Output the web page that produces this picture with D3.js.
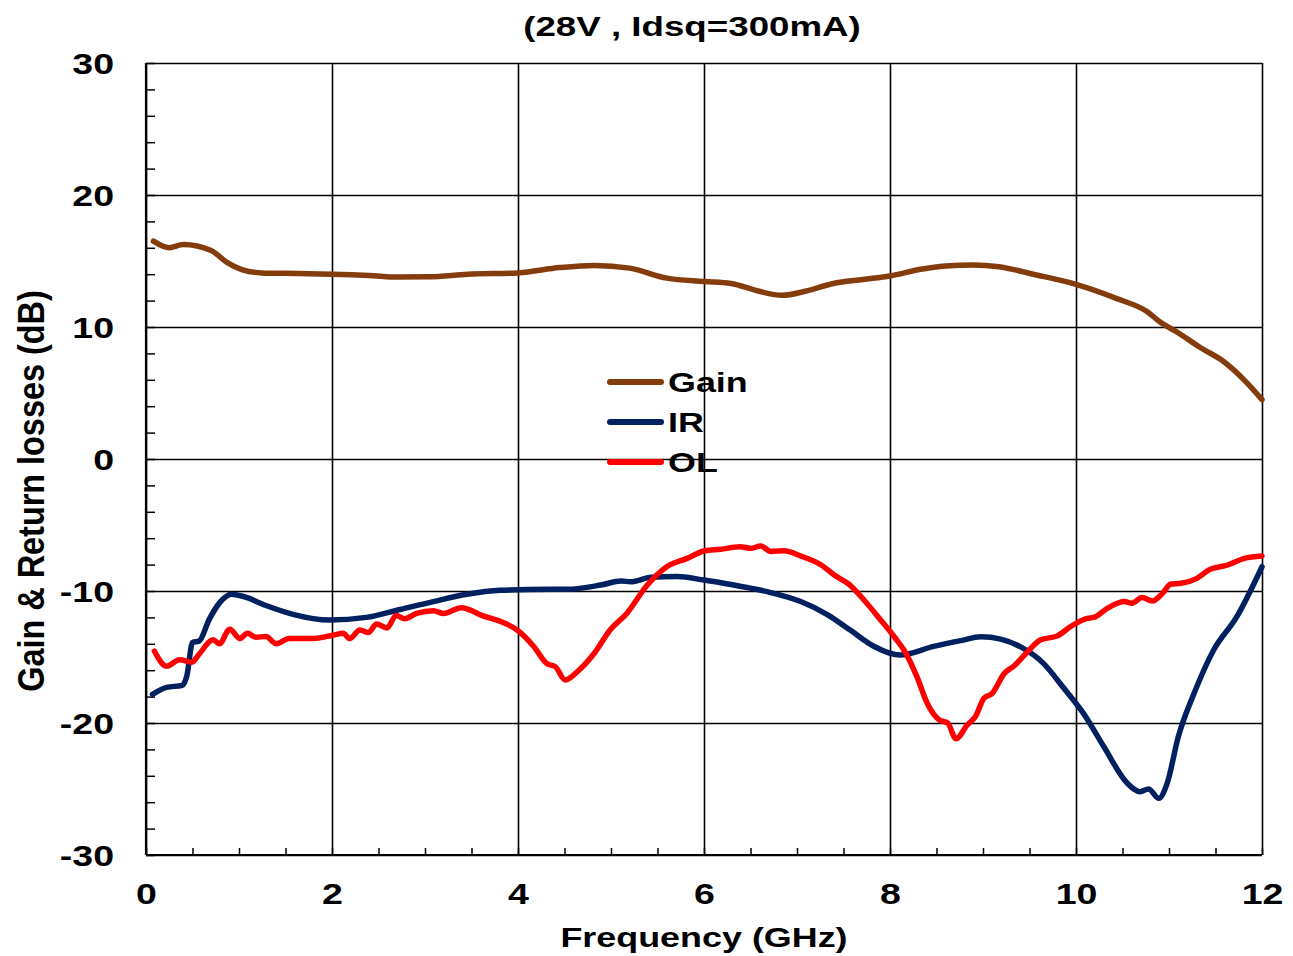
<!DOCTYPE html>
<html>
<head>
<meta charset="utf-8">
<script src="https://cdn.jsdelivr.net/npm/d3@7"></script>
<style>
  html, body { margin: 0; padding: 0; background: #fff; }
  svg text { font-family: "Liberation Sans", Arial, sans-serif; font-weight: bold; fill: #000; }
</style>
</head>
<body>
<div id="graphic"></div>
<script>
// values
const gainFreq = [0.08, 0.25, 0.4, 0.7, 0.87, 1.03, 1.24, 1.65, 2.0, 2.4, 2.72, 3.05, 3.46, 4.0, 4.45, 4.82, 5.2, 5.6, 6.0, 6.29, 6.57, 6.84, 7.1, 7.39, 7.71, 8.0, 8.33, 8.6, 8.89, 9.17, 9.54, 10.0, 10.44, 10.77, 10.9, 11.09, 11.34, 11.58, 11.82, 12.0];
const gainDb = [16.5, 16.0, 16.25, 15.8, 14.9, 14.35, 14.1, 14.05, 14.0, 13.9, 13.78, 13.8, 14.0, 14.1, 14.5, 14.66, 14.46, 13.7, 13.45, 13.3, 12.75, 12.4, 12.73, 13.3, 13.6, 13.86, 14.37, 14.62, 14.7, 14.57, 14.0, 13.23, 12.15, 11.14, 10.4, 9.6, 8.43, 7.42, 5.9, 4.5];

const irFreq = [0.07, 0.22, 0.39, 0.44, 0.5, 0.57, 0.68, 0.79, 0.92, 1.04, 1.29, 1.58, 1.97, 2.37, 2.73, 3.09, 3.45, 3.81, 4.34, 4.53, 4.89, 5.11, 5.21, 5.43, 5.71, 6.0, 6.32, 6.68, 7.04, 7.33, 7.58, 7.83, 8.11, 8.47, 8.76, 8.98, 9.19, 9.4, 9.65, 9.87, 10.08, 10.3, 10.55, 10.69, 10.78, 10.89, 10.98, 11.1, 11.27, 11.48, 11.73, 12.0];
const irDb = [-17.83, -17.3, -17.15, -16.4, -13.9, -13.8, -12.15, -10.9, -10.25, -10.4, -11.1, -11.77, -12.2, -12.0, -11.4, -10.8, -10.25, -9.95, -9.87, -9.87, -9.55, -9.24, -9.3, -8.96, -8.91, -9.17, -9.55, -10.05, -10.8, -11.8, -13.0, -14.2, -14.85, -14.2, -13.76, -13.46, -13.64, -14.22, -15.48, -17.37, -19.27, -21.8, -24.55, -25.2, -25.0, -25.7, -24.57, -21.04, -17.75, -14.47, -11.94, -8.16];

const olFreq = [0.09, 0.22, 0.36, 0.49, 0.57, 0.72, 0.79, 0.9, 1.01, 1.09, 1.18, 1.29, 1.4, 1.54, 1.79, 2.01, 2.12, 2.19, 2.3, 2.39, 2.48, 2.59, 2.69, 2.78, 2.91, 3.09, 3.2, 3.39, 3.63, 3.81, 3.99, 4.17, 4.31, 4.4, 4.51, 4.64, 4.82, 4.99, 5.17, 5.39, 5.6, 5.82, 6.0, 6.18, 6.39, 6.5, 6.61, 6.72, 6.86, 7.04, 7.26, 7.4, 7.56, 7.72, 7.9, 8.06, 8.15, 8.29, 8.4, 8.53, 8.62, 8.71, 8.83, 8.92, 9.01, 9.1, 9.23, 9.33, 9.48, 9.62, 9.8, 9.94, 10.12, 10.19, 10.34, 10.52, 10.6, 10.71, 10.82, 10.93, 11.02, 11.13, 11.3, 11.43, 11.63, 11.81, 12.0];
const olDb = [-14.55, -15.7, -15.2, -15.4, -14.8, -13.7, -14.0, -12.9, -13.6, -13.2, -13.5, -13.45, -14.0, -13.6, -13.6, -13.35, -13.2, -13.6, -12.95, -13.15, -12.5, -12.8, -11.85, -12.1, -11.7, -11.5, -11.7, -11.26, -11.9, -12.3, -12.95, -14.2, -15.5, -15.73, -16.74, -16.1, -14.72, -12.95, -11.7, -9.55, -8.16, -7.53, -6.97, -6.84, -6.64, -6.77, -6.6, -7.0, -6.95, -7.35, -8.03, -8.79, -9.5, -10.68, -12.2, -13.6, -14.47, -16.5, -18.5, -19.77, -20.0, -21.2, -20.15, -19.5, -18.13, -17.75, -16.24, -15.7, -14.6, -13.7, -13.4, -12.7, -12.07, -12.0, -11.3, -10.8, -10.93, -10.5, -10.76, -10.18, -9.47, -9.42, -9.04, -8.4, -8.03, -7.53, -7.35];

const seriesNames = ["Gain", "IR", "OL"];
const seriesColors = ["#843c0c", "#002060", "#ff0000"];

const xMajor = [0, 2, 4, 6, 8, 10, 12];
const yMajor = [-30, -20, -10, 0, 10, 20, 30];

const TITLE = "(28V , Idsq=300mA)";
const X_LABEL = "Frequency (GHz)";
const Y_LABEL = "Gain & Return losses (dB)";

// text in the picture is stretched sideways
const SX = 1.33;
const TICK_SX = 1.25;

const W = 1293, H = 956;
const margin = {top: 63, right: 31, bottom: 101, left: 146};

var svg = d3.select("#graphic")
    .append("svg")
    .attr("width", W)
    .attr("height", H)

var x = d3.scaleLinear()
    .domain([0, 12])
    .range([margin.left, W - margin.right])

var y = d3.scaleLinear()
    .domain([-30, 30])
    .range([H - margin.bottom, margin.top])

const plotH = y(-30) - y(30);
const plotW = x(12) - x(0);
const plainFormat = d => String(d);  // hyphen minus like the original

// minor ticks
svg.append("g")
    .attr("transform", `translate(0,${y(-30)})`)
    .call(d3.axisBottom(x).tickValues(d3.range(0, 12.01, 0.5)).tickSize(-7).tickFormat(""))
    .call(g => g.select(".domain").remove())
    .call(g => g.selectAll(".tick line").attr("stroke", "#000").attr("stroke-width", 1.5))

svg.append("g")
    .attr("transform", `translate(${x(0)},0)`)
    .call(d3.axisLeft(y).tickValues(d3.range(-30, 30.01, 2)).tickSize(-9).tickFormat(""))
    .call(g => g.select(".domain").remove())
    .call(g => g.selectAll(".tick line").attr("stroke", "#000").attr("stroke-width", 1.5))

// grid + labels
svg.append("g")
    .attr("class", "x axis")
    .attr("transform", `translate(0,${y(-30)})`)
    .call(d3.axisBottom(x).tickValues(xMajor).tickSize(-plotH).tickFormat(plainFormat))
    .call(g => g.select(".domain").remove())
    .call(g => g.selectAll(".tick line").attr("stroke", "#000").attr("stroke-width", 1.6))
    .call(g => g.selectAll(".tick text")
        .attr("y", 0)
        .attr("dy", 0)
        .attr("transform", `translate(0,49) scale(${TICK_SX},1)`)
        .style("font-size", "30px"))

svg.append("g")
    .attr("class", "y axis")
    .attr("transform", `translate(${x(0)},0)`)
    .call(d3.axisLeft(y).tickValues(yMajor).tickSize(-plotW).tickFormat(plainFormat))
    .call(g => g.select(".domain").remove())
    .call(g => g.selectAll(".tick line").attr("stroke", "#000").attr("stroke-width", 1.6))
    .call(g => g.selectAll(".tick text")
        .attr("x", 0)
        .attr("dy", "0.36em")
        .attr("transform", `translate(-32,0) scale(${TICK_SX},1)`)
        .style("font-size", "30px"))

// frame
svg.append("line")
    .attr("x1", x(0)).attr("x2", x(0))
    .attr("y1", y(30)).attr("y2", y(-30))
    .attr("stroke", "#000").attr("stroke-width", 2.2)
svg.append("line")
    .attr("x1", x(0)).attr("x2", x(12))
    .attr("y1", y(-30)).attr("y2", y(-30))
    .attr("stroke", "#000").attr("stroke-width", 2.2)

// curves
var line = d3.line()
    .x(d => x(d[0]))
    .y(d => y(d[1]))
    .curve(d3.curveMonotoneX)

const seriesData = [
    d3.zip(gainFreq, gainDb),
    d3.zip(irFreq, irDb),
    d3.zip(olFreq, olDb)
];

svg.selectAll(".curve")
    .data(seriesData)
    .enter()
    .append("path")
    .attr("class", "curve")
    .attr("d", line)
    .style("fill", "none")
    .attr("stroke", (d, i) => seriesColors[i])
    .attr("stroke-width", 5.5)
    .attr("stroke-linecap", "round")
    .attr("stroke-linejoin", "round")

// legend
var legend = svg.append("g")
    .selectAll("g")
    .data(seriesNames)
    .enter()
    .append("g")
    .attr("transform", (d, i) => `translate(0,${382 + i * 40})`)

legend.append("line")
    .attr("x1", 610).attr("x2", 661)
    .attr("stroke", (d, i) => seriesColors[i])
    .attr("stroke-width", 6)
    .attr("stroke-linecap", "round")

legend.append("text")
    .attr("transform", `translate(668,10) scale(${SX},1)`)
    .style("font-size", "27px")
    .text(d => d)

// titles
svg.append("text")
    .attr("transform", `translate(692,36) scale(${SX + 0.03},1)`)
    .attr("text-anchor", "middle")
    .style("font-size", "27px")
    .text(TITLE)

svg.append("text")
    .attr("transform", `translate(704,947) scale(${SX},1)`)
    .attr("text-anchor", "middle")
    .style("font-size", "27px")
    .text(X_LABEL)

svg.append("text")
    .attr("transform", `translate(44,491) rotate(-90) scale(1,1.16)`)
    .attr("text-anchor", "middle")
    .style("font-size", "32.4px")
    .text(Y_LABEL)
</script>
</body>
</html>
